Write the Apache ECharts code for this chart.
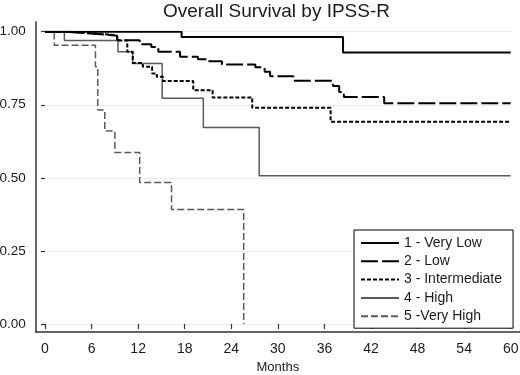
<!DOCTYPE html>
<html>
<head>
<meta charset="utf-8">
<script src="https://cdn.jsdelivr.net/npm/echarts@6/dist/echarts.min.js"></script>
<style>
  html, body { margin: 0; padding: 0; background: #fff; }
  #chart { width: 520px; height: 375px; }
</style>
</head>
<body>
<div id="chart"></div>
<script>
const groupNames = ['1 - Very Low', '2 - Low', '3 - Intermediate', '4 - High', '5 -Very High'];
const xTicks = [0, 6, 12, 18, 24, 30, 36, 42, 48, 54, 60];

// months at which survival changes, and the survival from that month on
const veryLowT = [0, 17.6, 38.4, 60];
const veryLowS = [1, 0.982, 0.929, 0.929];

const lowT = [0, 2.5, 5, 8, 9.3, 12.2, 13.7, 14.6, 17.4, 19.7, 21.0, 22.8, 27.1, 28.3, 29.0, 32.0, 37.1, 37.9, 38.5, 43.7, 60];
const lowS = [1, 0.995, 0.99, 0.986, 0.971, 0.957, 0.948, 0.931, 0.914, 0.906, 0.899, 0.888, 0.878, 0.863, 0.848, 0.832, 0.814, 0.794, 0.777, 0.755, 0.755];

const interT = [0, 3, 6, 8.5, 9.3, 10.6, 11.3, 12.6, 13.8, 14.4, 15.2, 19.1, 21.6, 26.7, 36.8, 60];
const interS = [1, 0.995, 0.99, 0.985, 0.97, 0.931, 0.893, 0.880, 0.857, 0.846, 0.831, 0.800, 0.775, 0.740, 0.692, 0.692];

const highT = [0, 2.5, 9.4, 11.3, 15.1, 20.4, 27.6, 60];
const highS = [1, 0.97, 0.931, 0.891, 0.772, 0.672, 0.507, 0.507];

const veryHighT = [0, 1.2, 6.5, 6.8, 7.7, 9.0, 12.2, 16.3, 25.6];
const veryHighS = [1, 0.954, 0.88, 0.732, 0.660, 0.587, 0.484, 0.392, 0];

const pairs = (t, s) => t.map((m, i) => [m, s[i]]);

const chart = echarts.init(document.getElementById('chart'));

const lineStyles = [
  { color: '#000', width: 2, type: 'solid' },
  { color: '#000', width: 2, type: [17, 4] },
  { color: '#000', width: 2, type: [4, 2] },
  { color: '#5a5a5a', width: 1.5, type: 'solid' },
  { color: '#5a5a5a', width: 1.5, type: [7, 3] }
];
const curves = [
  pairs(veryLowT, veryLowS),
  pairs(lowT, lowS),
  pairs(interT, interS),
  pairs(highT, highS),
  pairs(veryHighT, veryHighS)
];

const textColor = '#1a1a1a';
const font = 'Arial, "Liberation Sans", sans-serif';

const option = {
  animation: false,
  title: {
    text: 'Overall Survival by IPSS-R',
    left: 163,
    top: 2,
    padding: 0,
    textStyle: { fontFamily: font, fontSize: 19, fontWeight: 'normal', color: textColor }
  },
  legend: {
    orient: 'vertical',
    left: 354,
    top: 230,
    padding: [6, 11, 5, 6],
    itemWidth: 38,
    itemHeight: 14,
    itemGap: 4.3,
    borderColor: '#000',
    borderWidth: 1,
    backgroundColor: '#fff',
    itemStyle: { opacity: 0 },
    textStyle: { fontFamily: font, fontSize: 14, color: textColor },
    data: groupNames
  },
  grid: [
    { left: 45, right: 9.3, top: 31.7, bottom: 51, outerBoundsMode: 'none' },
    { left: 35.8, right: 0, top: 22, bottom: 43, outerBoundsMode: 'none' }
  ],
  xAxis: [
    {
      type: 'value', gridIndex: 0, min: 0, max: 60, interval: 6, offset: 8,
      axisLine: { show: false },
      axisTick: { show: true, length: 5, lineStyle: { color: '#333', width: 1.2 } },
      axisLabel: { margin: 10, fontFamily: font, fontSize: 14, color: textColor },
      splitLine: { show: false },
      name: 'Months', nameLocation: 'middle', nameGap: 29,
      nameTextStyle: { fontFamily: font, fontSize: 13, color: textColor }
    },
    {
      type: 'value', gridIndex: 1, min: 0, max: 1,
      axisLine: { show: true, lineStyle: { color: '#333', width: 1.5 } },
      axisTick: { show: false }, axisLabel: { show: false }, splitLine: { show: false }
    }
  ],
  yAxis: [
    {
      type: 'value', gridIndex: 0, min: 0, max: 1, interval: 0.25, offset: 9.2,
      axisLine: { show: false },
      axisTick: { show: true, length: 4, lineStyle: { color: '#333', width: 1.2 } },
      axisLabel: { margin: 10, fontFamily: font, fontSize: 13.5, color: textColor, formatter: v => v.toFixed(2) },
      splitLine: { show: true, lineStyle: { color: '#ececec', width: 1 } }
    },
    {
      type: 'value', gridIndex: 1, min: 0, max: 1,
      axisLine: { show: true, lineStyle: { color: '#333', width: 1.5 } },
      axisTick: { show: false }, axisLabel: { show: false }, splitLine: { show: false }
    }
  ],
  series: groupNames.map((name, i) => ({
    name: name,
    type: 'line',
    xAxisIndex: 0,
    yAxisIndex: 0,
    step: 'end',
    symbol: 'none',
    color: lineStyles[i].color,
    lineStyle: lineStyles[i],
    z: 10 - i,
    data: curves[i]
  }))
};

chart.setOption(option);
</script>
</body>
</html>
